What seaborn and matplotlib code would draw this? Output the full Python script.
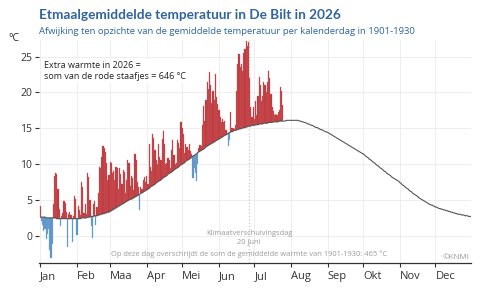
import numpy as np
import pandas as pd
import matplotlib.pyplot as plt
import seaborn as sns

# maanden op de x-as
maanden = ['Jan', 'Feb', 'Maa', 'Apr', 'Mei', 'Jun', 'Jul', 'Aug', 'Sep', 'Okt', 'Nov', 'Dec']
maand_start = [0, 31, 59, 90, 120, 151, 181, 212, 243, 273, 304, 334]

norm_jan = [2.6, 2.6, 2.6, 2.6, 2.6, 2.5, 2.5, 2.5, 2.5, 2.5, 2.5, 2.5, 2.5, 2.5, 2.4, 2.4,
            2.4, 2.4, 2.4, 2.4, 2.4, 2.4, 2.4, 2.4, 2.4, 2.4, 2.4, 2.4, 2.4, 2.4, 2.4]
norm_feb = [2.4, 2.4, 2.4, 2.4, 2.5, 2.5, 2.5, 2.5, 2.5, 2.6, 2.6, 2.6, 2.7, 2.7, 2.7, 2.8,
            2.8, 2.8, 2.9, 2.9, 3.0, 3.0, 3.1, 3.1, 3.2, 3.2, 3.3, 3.3]
norm_mar = [3.4, 3.5, 3.6, 3.7, 3.8, 3.9, 4.0, 4.1, 4.2, 4.3, 4.4, 4.5, 4.6, 4.7, 4.8, 4.9,
            5.0, 5.1, 5.1, 5.2, 5.3, 5.4, 5.5, 5.6, 5.7, 5.8, 5.9, 6.0, 6.1, 6.2, 6.3]
norm_apr = [6.4, 6.5, 6.6, 6.8, 6.9, 7.0, 7.1, 7.2, 7.4, 7.5, 7.6, 7.7, 7.8, 8.0, 8.1, 8.2,
            8.3, 8.4, 8.6, 8.7, 8.8, 8.9, 9.0, 9.2, 9.3, 9.4, 9.5, 9.6, 9.8, 9.9]
norm_mei = [10.0, 10.1, 10.2, 10.4, 10.5, 10.6, 10.7, 10.8, 11.0, 11.1, 11.2, 11.3, 11.4, 11.6,
            11.7, 11.8, 11.9, 12.0, 12.1, 12.2, 12.4, 12.5, 12.6, 12.7, 12.8, 12.9, 13.0, 13.1,
            13.2, 13.3, 13.4]
norm_jun = [13.5, 13.6, 13.7, 13.8, 13.9, 14.0, 14.1, 14.2, 14.3, 14.4, 14.5, 14.5, 14.6, 14.7,
            14.7, 14.8, 14.8, 14.9, 14.9, 15.0, 15.0, 15.1, 15.1, 15.2, 15.2, 15.3, 15.3, 15.3,
            15.4, 15.4]
norm_jul = [15.4, 15.5, 15.5, 15.5, 15.6, 15.6, 15.6, 15.6, 15.7, 15.7, 15.7, 15.7, 15.8, 15.8,
            15.8, 15.8, 15.9, 15.9, 15.9, 15.9, 15.9, 16.0, 16.0, 16.0, 16.0, 16.0, 16.0, 16.1,
            16.1, 16.1, 16.1]
norm_aug = [16.1, 16.1, 16.1, 16.1, 16.1, 16.1, 16.1, 16.0, 16.0, 15.9, 15.9, 15.8, 15.8, 15.7,
            15.6, 15.6, 15.5, 15.4, 15.4, 15.3, 15.2, 15.1, 15.1, 15.0, 14.9, 14.8, 14.8, 14.7,
            14.6, 14.5, 14.5]
norm_sep = [14.4, 14.3, 14.2, 14.1, 14.0, 13.9, 13.8, 13.7, 13.6, 13.5, 13.4, 13.3, 13.2, 13.1,
            13.0, 12.9, 12.8, 12.7, 12.6, 12.5, 12.4, 12.3, 12.2, 12.1, 12.0, 11.9, 11.8, 11.7,
            11.6, 11.5]
norm_okt = [11.4, 11.3, 11.1, 11.0, 10.9, 10.7, 10.6, 10.5, 10.3, 10.2, 10.1, 9.9, 9.8, 9.7,
            9.5, 9.4, 9.3, 9.1, 9.0, 8.9, 8.7, 8.6, 8.5, 8.4, 8.2, 8.1, 8.0, 7.9, 7.8, 7.7, 7.6]
norm_nov = [7.4, 7.3, 7.1, 7.0, 6.9, 6.7, 6.6, 6.5, 6.3, 6.2, 6.1, 5.9, 5.8, 5.7, 5.6, 5.5,
            5.3, 5.2, 5.1, 5.0, 4.9, 4.8, 4.7, 4.6, 4.5, 4.4, 4.3, 4.3, 4.2, 4.1]
norm_dec = [4.0, 4.0, 3.9, 3.8, 3.8, 3.7, 3.7, 3.6, 3.6, 3.5, 3.5, 3.4, 3.4, 3.3, 3.3, 3.2,
            3.2, 3.1, 3.1, 3.0, 3.0, 3.0, 2.9, 2.9, 2.9, 2.8, 2.8, 2.8, 2.7, 2.7, 2.7]

temp_jan = [4.2, 2.0, 1.5, 0.6, 0.9, -0.5, 0.2, 1.0, -2.0, -3.1, -1.2, 4.5, 8.4, 8.8, 8.6, 6.5,
            3.8, 1.3, 2.8, 3.2, 4.8, 4.6, 3.3, -1.6, 3.0, 3.3, 2.9, -0.8, 2.8, 5.5, 5.1]
temp_feb = [0.1, 4.1, 3.6, 2.9, 7.5, 6.8, 3.2, 4.5, 3.0, 8.7, 8.2, 5.0, 1.3, -0.3, 4.4, 4.8,
            1.5, 4.0, 5.9, 9.6, 9.4, 11.0, 12.5, 12.2, 11.7, 10.1, 7.8, 8.5]
temp_mar = [10.3, 10.1, 8.7, 9.0, 7.8, 9.6, 9.4, 6.5, 9.4, 8.6, 7.2, 9.2, 8.9, 6.0, 7.8, 10.5,
            10.2, 7.0, 8.4, 8.0, 6.4, 11.4, 10.6, 7.5, 6.8, 3.6, 6.8, 6.5, 7.8, 8.2, 7.5]
temp_apr = [8.4, 7.2, 12.8, 9.6, 9.0, 14.2, 13.6, 12.0, 10.5, 10.0, 12.8, 11.0, 10.5, 13.5,
            14.6, 12.8, 10.0, 10.1, 10.8, 10.5, 9.5, 12.0, 13.3, 11.2, 10.0, 10.2, 13.3, 13.0,
            12.2, 15.8]
temp_mei = [15.0, 14.2, 11.5, 12.8, 12.4, 11.9, 12.8, 11.8, 11.4, 8.0, 9.5, 8.7, 7.6, 10.0,
            12.3, 12.6, 12.5, 15.5, 18.1, 16.0, 19.0, 21.5, 20.5, 22.8, 21.0, 18.5, 20.2, 19.0,
            22.5, 19.3, 18.4]
temp_jun = [17.6, 16.5, 15.8, 16.3, 15.9, 16.0, 14.8, 14.3, 12.5, 13.4, 17.2, 15.0, 15.1, 14.9,
            15.4, 20.2, 24.0, 25.3, 23.5, 24.0, 23.0, 25.5, 26.0, 27.1, 26.5, 27.0, 22.0, 18.0,
            16.5, 17.9]
temp_jul = [16.3, 18.8, 16.8, 19.5, 22.2, 21.0, 18.8, 19.5, 21.4, 21.0, 20.0, 21.5, 23.0, 22.0,
            19.8, 17.9, 17.4, 16.8, 17.0, 16.9, 17.2, 17.5, 20.7, 20.2, 18.2]

verschuivingsdag = 176.5  # plek van de stippellijn in de grafiek

normaal = (norm_jan + norm_feb + norm_mar + norm_apr + norm_mei + norm_jun + norm_jul
           + norm_aug + norm_sep + norm_okt + norm_nov + norm_dec)
temp_2026 = temp_jan + temp_feb + temp_mar + temp_apr + temp_mei + temp_jun + temp_jul

clim = pd.DataFrame({'dag': np.arange(len(normaal)), 'normaal': normaal})
obs = pd.DataFrame({'dag': np.arange(len(temp_2026)), 'temp': temp_2026})
obs['normaal'] = clim['normaal'].values[:len(obs)]
obs['afwijking'] = obs['temp'] - obs['normaal']

sns.set_theme(style='whitegrid')
plt.rcParams['font.family'] = ['Open Sans', 'DejaVu Sans']

blauw_titel = '#2f64a0'
grijs = '#9a9a9a'

fig = plt.figure(figsize=(4.83, 2.90), dpi=100)
ax = fig.add_axes([0.081, 0.093, 0.894, 0.769])

warm = obs['afwijking'] >= 0
ax.bar(obs['dag'][warm], obs['afwijking'][warm], bottom=obs['normaal'][warm], width=1.0,
       color='#bf383d', edgecolor='#cc5a5f', linewidth=0.2, zorder=2)
ax.bar(obs['dag'][~warm], obs['afwijking'][~warm], bottom=obs['normaal'][~warm], width=1.0,
       color='#5a93c9', edgecolor='#7aa8d6', linewidth=0.2, zorder=2)
sns.lineplot(data=clim, x='dag', y='normaal', color='#555555', lw=0.8, ax=ax, zorder=3)

ax.axvline(verschuivingsdag, color='#c8c8c8', ls=':', lw=0.9, zorder=1)

ax.set_xlim(-1, 364)
ax.set_ylim(-3.8, 27.3)
ax.set_xticks(maand_start)
ax.set_xticklabels(maanden, ha='left')
ax.set_yticks([0, 5, 10, 15, 20, 25])
ax.set_xlabel('')
ax.set_ylabel('')
ax.grid(True, color='#eeeeee', lw=0.7)
ax.set_facecolor('white')
for kant in ['top', 'left', 'right']:
    ax.spines[kant].set_visible(False)
ax.spines['bottom'].set_color('#333333')
ax.spines['bottom'].set_linewidth(0.9)
ax.tick_params(axis='x', bottom=True, length=3, width=0.8, color='#333333',
               labelsize=8, labelcolor='#333333', pad=3)
ax.tick_params(axis='y', left=True, length=3, width=0.8, color='#333333',
               labelsize=7.5, labelcolor='#333333', pad=2)

fig.text(39 / 483, 1 - 15 / 290, 'Etmaalgemiddelde temperatuur in De Bilt in 2026',
         color=blauw_titel, fontsize=9.8, fontweight='bold', va='center', ha='left',
         family=['Lato', 'DejaVu Sans'])
fig.text(39 / 483, 1 - 32 / 290,
         'Afwijking ten opzichte van de gemiddelde temperatuur per kalenderdag in 1901-1930',
         color=blauw_titel, fontsize=6.8, va='center', ha='left')
fig.text(8 / 483, 1 - 39 / 290, '°C', color='#222222', fontsize=7.5, va='center', ha='left')

ax.text(0.012, 0.907, 'Extra warmte in 2026 =\nsom van de rode staafjes = 646 °C',
        transform=ax.transAxes, fontsize=6.5, color='#222222', va='top', ha='left',
        linespacing=1.35, bbox=dict(facecolor='white', edgecolor='none', pad=1))

ax.text(verschuivingsdag, -1.4, 'Klimaatverschuivingsdag\n20 juni', fontsize=5.4,
        color=grijs, ha='center', va='bottom', linespacing=1.3)
ax.text(verschuivingsdag, -2.5,
        'Op deze dag overschrijdt de som de gemiddelde warmte van 1901-1930: 465 °C',
        fontsize=5.4, color=grijs, ha='center', va='center')
ax.text(0.998, 0.027, '©KNMI', transform=ax.transAxes, fontsize=5.8, color=grijs,
        ha='right', va='center')

fig.savefig('out.png', dpi=100)
